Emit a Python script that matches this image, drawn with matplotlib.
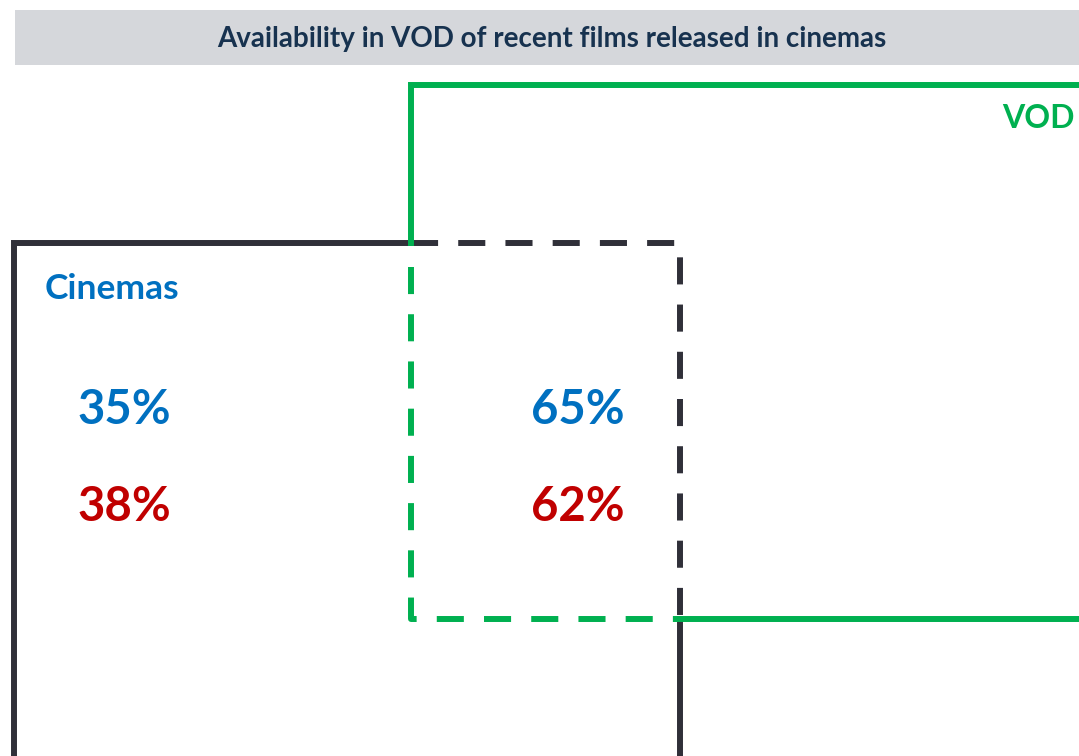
import matplotlib.pyplot as plt
from matplotlib.patches import Rectangle

plt.rcParams['font.family'] = ['Lato', 'DejaVu Sans']
plt.rcParams['lines.scale_dashes'] = False

# data
title = "Availability in VOD of recent films released in cinemas"
set_labels = ["Cinemas", "VOD"]
cinema_only = [35, 38]   # blue row, red row
both = [65, 62]
row_colors = ["#0070C0", "#C00000"]

dark = "#303039"
green = "#00B050"

fig = plt.figure(figsize=(10.79, 7.56), dpi=100)
ax = fig.add_axes([0, 0, 1, 1])
ax.set_xlim(0, 1079)
ax.set_ylim(756, 0)
ax.axis('off')

# title bar
ax.add_patch(Rectangle((15, 10), 1064, 55, color="#D5D7DB", lw=0))
ax.text(552, 39, title, ha='center', va='center', fontsize=20,
        fontweight='bold', color="#17324F")

lw = 4.3
dash = (0, (19.5, 14.5))

# cinema box (dark)
cx0, cy0, cx1, cy1 = 14, 243, 680, 758
# vod box (green)
vx0, vy0, vx1, vy1 = 411, 85, 1085, 619

# dark solid parts
ax.plot([vx0, cx0, cx0, cx1, cx1], [cy0, cy0, cy1, cy1, vy1], color=dark, lw=lw,
        solid_joinstyle='miter', zorder=2)
# dark dashed parts
ax.plot([vx0, cx1, cx1], [cy0, cy0, vy1], color=dark, lw=lw, linestyle=dash,
        zorder=2)

# green solid parts
ax.plot([vx0, vx0, vx1], [cy0, vy0, vy0], color=green, lw=lw,
        solid_joinstyle='miter', zorder=3)
ax.plot([cx1, vx1], [vy1, vy1], color=green, lw=lw, zorder=3)
# green dashed parts
ax.plot([vx0, vx0, cx1], [cy0 + 24, vy1, vy1], color=green, lw=lw,
        linestyle=dash, zorder=3)

ax.text(45, 289, set_labels[0], ha='left', va='center', fontsize=25.5,
        fontweight='bold', color="#0070C0")
ax.text(1075, 118, set_labels[1], ha='right', va='center', fontsize=23,
        fontweight='bold', color=green)

row_y = [410, 507]
for i in range(2):
    ax.text(124, row_y[i], f"{cinema_only[i]}%", ha='center', va='center',
            fontsize=34, fontweight='bold', color=row_colors[i])
    ax.text(578, row_y[i], f"{both[i]}%", ha='center', va='center',
            fontsize=34, fontweight='bold', color=row_colors[i])

fig.savefig('out.png', dpi=100)
